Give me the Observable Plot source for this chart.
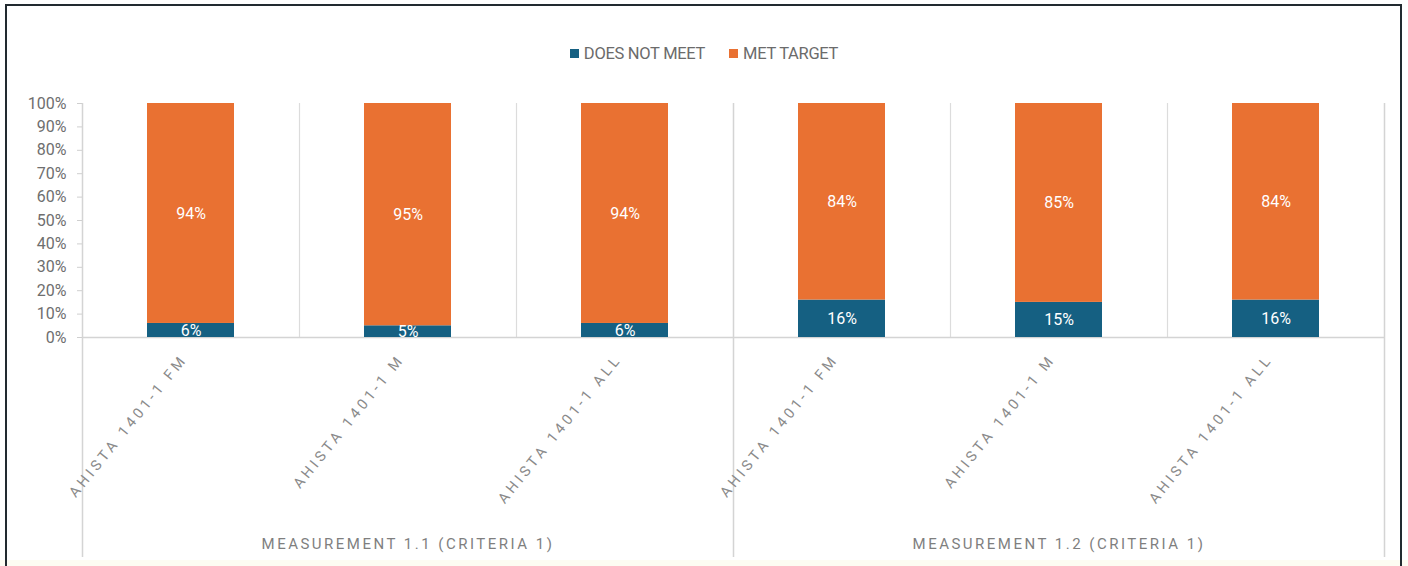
<!DOCTYPE html>
<html>
<head>
<meta charset="utf-8">
<script src="https://cdn.jsdelivr.net/npm/d3@7"></script>
<script src="https://cdn.jsdelivr.net/npm/@observablehq/plot@0.6"></script>
<style>
  html, body { margin: 0; padding: 0; background: #ffffff; }
  body { width: 1408px; height: 566px; position: relative; overflow: hidden; font-family: Roboto, "Liberation Sans", sans-serif; }
  #frame { position: absolute; left: 5px; top: 4px; width: 1397px; height: 600px; border: 2px solid #222a30; box-sizing: border-box; }
  #strip { position: absolute; left: 0; top: 560px; width: 1408px; height: 6px; background: #fdfcf2; }
  #legend { position: absolute; top: 44px; left: 0; width: 1408px; display: flex; justify-content: center; gap: 24px; font-size: 16.5px; color: #6b6b6b; letter-spacing: -0.3px; }
  #legend .item { display: flex; align-items: center; gap: 5px; }
  #legend .sw { width: 9px; height: 9px; display: inline-block; }
  #chart { position: absolute; left: 0; top: 0; }
</style>
</head>
<body>
<div id="strip"></div>
<div id="frame"></div>
<div id="legend"></div>
<div id="chart"></div>
<script>
// ---- data ----
const groups = ["MEASUREMENT 1.1 (CRITERIA 1)", "MEASUREMENT 1.2 (CRITERIA 1)"];
const subgroups = ["AHISTA 1401-1 FM", "AHISTA 1401-1 M", "AHISTA 1401-1 ALL"];
const seriesNames = ["DOES NOT MEET", "MET TARGET"];
const seriesColors = ["#156082", "#E97132"];
const doesNotMeet = [6, 5, 6, 16, 15, 16];
const metTarget = [94, 95, 94, 84, 85, 84];
const yTicks = [0, 10, 20, 30, 40, 50, 60, 70, 80, 90, 100];

// ---- build table ----
const cats = [];
groups.forEach((g, gi) => subgroups.forEach((s, si) => cats.push({key: g + "|" + s, group: g, sub: s, gi, si})));
const rows = [];
cats.forEach((c, i) => {
  rows.push({key: c.key, series: seriesNames[0], value: doesNotMeet[i]});
  rows.push({key: c.key, series: seriesNames[1], value: metTarget[i]});
});
const keys = cats.map(c => c.key);

// legend
const legend = document.getElementById("legend");
seriesNames.forEach((n, i) => {
  const it = document.createElement("div");
  it.className = "item";
  it.innerHTML = `<span class="sw" style="background:${seriesColors[i]}"></span><span>${n}</span>`;
  legend.appendChild(it);
});

const W = 1408, H = 566, mL = 82, mR = 24, mT = 103, mB = 229;
const step = (W - mL - mR) / keys.length;

const shortRules = cats.filter(c => c.si !== 0).map(c => c.key);
const longRulesLeft = cats.filter(c => c.si === 0).map(c => c.key);
const longRulesRight = [keys[keys.length - 1]];
const middleCats = cats.filter(c => c.si === 1);

const chart = Plot.plot({
  width: W,
  height: H,
  marginLeft: mL,
  marginRight: mR,
  marginTop: mT,
  marginBottom: mB,
  style: {fontFamily: "Roboto, 'Liberation Sans', sans-serif", background: "transparent"},
  x: {domain: keys, paddingInner: 0.6, paddingOuter: 0.3, axis: null},
  y: {domain: [0, 100], axis: null},
  color: {domain: seriesNames, range: seriesColors},
  marks: [
    Plot.ruleX(shortRules, {x: d => d, dx: -step / 2, stroke: "#dcdcdc", strokeWidth: 1.2}),
    Plot.ruleX(longRulesLeft, {x: d => d, dx: -step / 2, stroke: "#d4d4d4", strokeWidth: 1.5, insetBottom: -220}),
    Plot.ruleX(longRulesRight, {x: d => d, dx: step / 2, stroke: "#d4d4d4", strokeWidth: 1.5, insetBottom: -220}),
    Plot.ruleY([0], {stroke: "#d4d4d4", strokeWidth: 1.5}),
    Plot.axisY({ticks: yTicks, tickFormat: d => d + "%", tickSize: 5, tickPadding: 11, stroke: "#cfcfcf", fill: "#6e6e6e", fontSize: 16, label: null}),
    Plot.barY(rows, Plot.stackY({x: "key", y: "value", fill: "series", order: seriesNames})),
    Plot.text(rows, Plot.stackY({x: "key", y: "value", z: "series", order: seriesNames, text: d => d.value + "%", fill: "#ffffff", fontSize: 16})),
    Plot.text(cats, {x: "key", text: "sub", frameAnchor: "bottom", rotate: -51, textAnchor: "end", dx: -3, dy: 22, fill: "#8a8a8a", fontSize: 14.5}),
    Plot.text(middleCats, {x: "key", text: "group", frameAnchor: "bottom", dy: 211, fill: "#7f7f7f", fontSize: 15})
  ]
});
const textGroups = chart.querySelectorAll('g[aria-label="text"]');
textGroups[1].querySelectorAll("text").forEach(t => t.setAttribute("letter-spacing", "3.5"));
textGroups[2].querySelectorAll("text").forEach(t => t.setAttribute("letter-spacing", "2.5"));
document.getElementById("chart").appendChild(chart);
</script>
</body>
</html>
